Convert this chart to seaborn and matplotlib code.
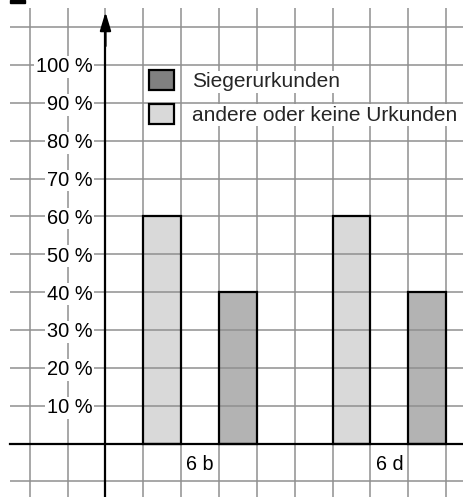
import matplotlib
matplotlib.use("Agg")
import pandas as pd
import seaborn as sns
import matplotlib.pyplot as plt
from matplotlib.patches import Patch, Rectangle

# data
klassen = ["6 b", "6 d"]
klassen_pos = [2.5, 7.5]
serien = ["andere oder keine Urkunden", "Siegerurkunden"]
andere = [60, 60]
sieger = [40, 40]
y_ticks = [10, 20, 30, 40, 50, 60, 70, 80, 90, 100]
y_labels = [f"{v} %" for v in y_ticks]

df = pd.DataFrame({
    "pos": klassen_pos * 2,
    "serie": [serien[0]] * 2 + [serien[1]] * 2,
    "wert": andere + sieger,
})

sns.set_style("white")
plt.rcParams["font.family"] = ["Liberation Sans", "DejaVu Sans"]

fig = plt.figure(figsize=(4.63, 4.97), dpi=100)
ax = fig.add_axes([0, 0, 1, 1])

bar_colors = {serien[0]: "#d9d9d9", serien[1]: "#b3b3b3"}
sns.barplot(data=df, x="pos", y="wert", hue="serie", hue_order=serien,
            palette=bar_colors, native_scale=True, orient="x",
            width=0.8, gap=0.5, dodge=True, legend=False,
            linewidth=0, saturation=1, ax=ax, zorder=2)

# black outlines above the grid
for p in list(ax.patches):
    ax.add_patch(Rectangle(p.get_xy(), p.get_width(), p.get_height(),
                           fill=False, ec="black", lw=1.6, zorder=4))

x0, x1 = -2.787, 9.445
y0, y1 = -14.13, 117.17
ax.set_xlim(x0, x1)
ax.set_ylim(y0, y1)

# grid paper
grid_c = "#8f8f8f"
ax.hlines(range(-10, 111, 10), -2.52, x1, color=grid_c, lw=1.1, zorder=3)
ax.vlines(range(-2, 10), y0, 115.06, color=grid_c, lw=1.1, zorder=3)

# axes through origin
for s in ["top", "right"]:
    ax.spines[s].set_visible(False)
ax.spines["left"].set_position(("data", 0))
ax.spines["bottom"].set_position(("data", 0))
ax.spines["left"].set_bounds(y0, 111)
ax.spines["bottom"].set_bounds(-2.52, x1)
for s in ["left", "bottom"]:
    ax.spines[s].set_linewidth(1.6)
    ax.spines[s].set_color("black")
    ax.spines[s].set_zorder(5)
ax.annotate("", xy=(0, 114.0), xytext=(0, 105),
            arrowprops=dict(arrowstyle="-|>,head_length=1.1,head_width=0.33",
                            color="black", lw=1.6, mutation_scale=10,
                            shrinkA=0, shrinkB=0), zorder=5)

ax.set_yticks(y_ticks, y_labels)
ax.set_xticks(klassen_pos, klassen)
ax.tick_params(axis="y", direction="inout", length=12, width=1.3,
               labelsize=14.4, pad=3.5, colors="black")
ax.tick_params(axis="x", length=0, labelsize=14.2, pad=8, colors="black")
ax.set_xlabel("")
ax.set_ylabel("")
for lbl in ax.get_yticklabels() + ax.get_xticklabels():
    lbl.set_bbox(dict(facecolor="white", edgecolor="none", pad=1))
ax.xaxis.set_zorder(6)
ax.yaxis.set_zorder(6)

# legend
handles = [Patch(facecolor="#808080", edgecolor="black", lw=1.6, label="Siegerurkunden"),
           Patch(facecolor="#d9d9d9", edgecolor="black", lw=1.6, label="andere oder keine Urkunden")]
leg = ax.legend(handles=handles, frameon=False, fontsize=15, loc="upper left",
                bbox_to_anchor=(149 / 463, 1 - 70 / 497), handlelength=1.2,
                handleheight=1.1, handletextpad=0.85, labelspacing=0.6,
                borderpad=0, borderaxespad=0)
leg.set_zorder(7)
for t in leg.get_texts():
    t.set_bbox(dict(facecolor="white", edgecolor="none", pad=1))

# small mark in the top left corner
ax.add_patch(Rectangle((10 / 463, 1 - 3 / 497), 15 / 463, 3 / 497,
                       transform=ax.transAxes, color="black", zorder=7,
                       clip_on=False))

fig.savefig("out.png", dpi=100)
